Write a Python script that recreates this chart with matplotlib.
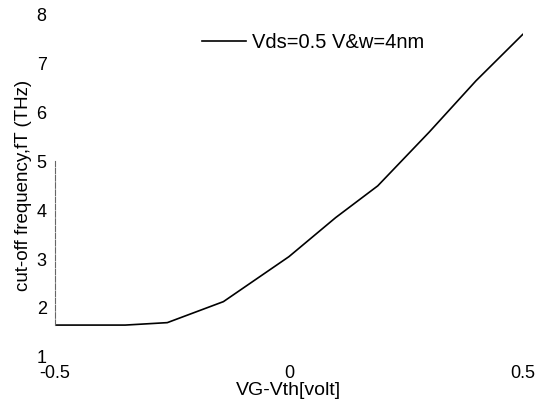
import numpy as np
import matplotlib
matplotlib.use('Agg')
import matplotlib.pyplot as plt

plt.rcParams['font.family'] = ['Liberation Sans', 'DejaVu Sans']

# gate overdrive (V) vs cut-off frequency (THz)
vg_vth = [-0.5, -0.35, -0.26, -0.14, 0.0, 0.1, 0.19, 0.3, 0.4, 0.5]
f_t = [1.65, 1.65, 1.70, 2.13, 3.05, 3.85, 4.5, 5.6, 6.65, 7.6]

x_ticks = [-0.5, 0, 0.5]
x_ticklabels = ['-0.5', '0', '0.5']
y_ticks = [1, 2, 3, 4, 5, 6, 7, 8]

fig = plt.figure(figsize=(5.4, 4.13), dpi=100)
ax = fig.add_axes([0.102, 0.136, 0.866, 0.828])

ax.plot(vg_vth, f_t, color='black', linewidth=1.2, label='Vds=0.5 V&w=4nm')

ax.set_xlim(-0.5, 0.5)
ax.set_ylim(1, 8)
ax.set_xticks(x_ticks)
ax.set_xticklabels(x_ticklabels)
ax.set_yticks(y_ticks)
ax.tick_params(axis='both', length=0, labelsize=13, pad=6)

for side in ['top', 'right', 'bottom']:
    ax.spines[side].set_visible(False)
ax.spines['left'].set_bounds(1.65, 5)
ax.spines['left'].set_color('0.4')
ax.spines['left'].set_linestyle((0, (5, 1.5)))
ax.spines['left'].set_linewidth(0.8)

ax.set_xlabel('VG-Vth[volt]', fontsize=14, labelpad=0)
ax.set_ylabel('cut-off frequency,fT (THz)', fontsize=13.5, labelpad=3)

ax.legend(loc='center right', bbox_to_anchor=(0.79, 0.918), frameon=False,
          fontsize=14.5, handlelength=2.2, handletextpad=0.3,
          borderpad=0, borderaxespad=0)

plt.savefig('out.png', dpi=100)
